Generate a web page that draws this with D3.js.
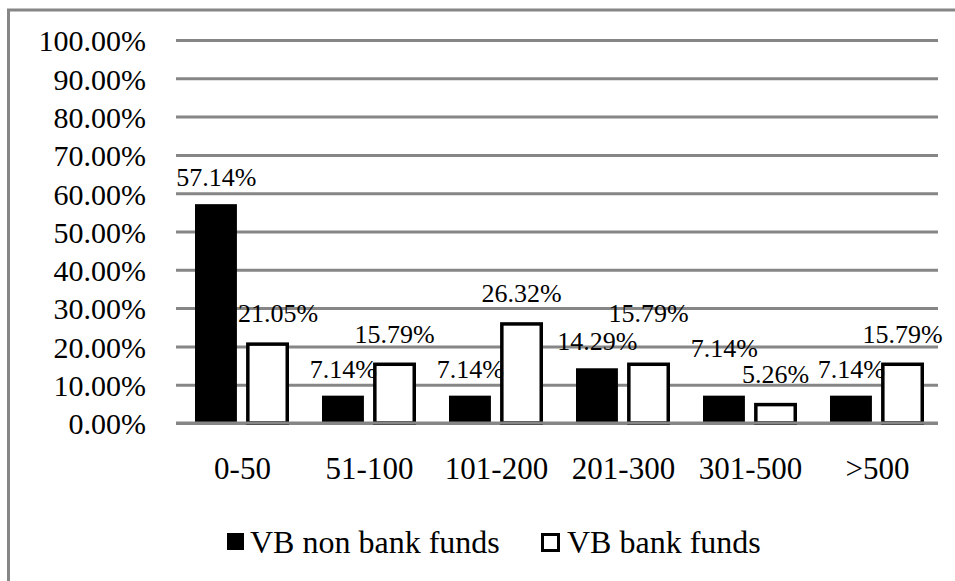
<!DOCTYPE html>
<meta charset="utf-8">
<html>
<head>
<style>
  body { margin: 0; background: #fff; }
  svg text { font-family: "Liberation Serif", "Times New Roman", serif; fill: #000; }
</style>
<script src="https://d3js.org/d3.v7.min.js"></script>
</head>
<body>
<svg width="955" height="581"></svg>
<script>
// data
var categories = ["0-50", "51-100", "101-200", "201-300", "301-500", ">500"];
var seriesNames = ["VB non bank funds", "VB bank funds"];
var nonBank = [0.5714, 0.0714, 0.0714, 0.1429, 0.0714, 0.0714];
var bank = [0.2105, 0.1579, 0.2632, 0.1579, 0.0526, 0.1579];
var yTicks = [0, 0.1, 0.2, 0.3, 0.4, 0.5, 0.6, 0.7, 0.8, 0.9, 1.0];

var svg = d3.select("svg");
var grey = "#868686";
var plotL = 176, plotR = 938, plotT = 40, plotB = 423;

// outer frame (only top and left edges fall inside the picture)
svg.append("path")
  .attr("d", "M8.5,590V10H960")
  .attr("fill", "none")
  .attr("stroke", grey)
  .attr("stroke-width", 3);

var x = d3.scaleBand().domain(categories).range([plotL, plotR]);
var xs = d3.scaleBand().domain([0, 1]).range([19, 113]).paddingInner(0.16);
var y = d3.scaleLinear().domain([0, 1]).range([plotB, plotT]);

// y axis with gridlines
var ya = svg.append("g")
  .attr("transform", "translate(" + plotL + ",0)")
  .call(d3.axisLeft(y).tickValues(yTicks).tickFormat(d3.format(".2%"))
    .tickSize(-(plotR - plotL)).tickPadding(30));
ya.select(".domain").remove();
ya.selectAll(".tick line").attr("stroke", grey).attr("stroke-width", 3);
ya.selectAll(".tick text").attr("font-size", "30px").attr("dy", "0.36em");

var rows = categories.map(function(c, i) { return {cat: c, vals: [nonBank[i], bank[i]]}; });

var sw = 3.5;
var groups = svg.selectAll(".grp").data(rows).enter().append("g")
  .attr("class", "grp")
  .attr("transform", function(d) { return "translate(" + x(d.cat) + ",0)"; });

// non bank (solid black)
groups.append("rect")
  .attr("x", xs(0))
  .attr("width", xs.bandwidth() - 1)
  .attr("y", function(d) { return y(d.vals[0]); })
  .attr("height", function(d) { return plotB - y(d.vals[0]); })
  .attr("fill", "#000");

// bank (white with black outline)
groups.append("rect")
  .attr("x", xs(1) + sw / 2)
  .attr("width", xs.bandwidth() - sw)
  .attr("y", function(d) { return y(d.vals[1]) + sw / 2; })
  .attr("height", function(d) { return plotB - y(d.vals[1]) - sw / 2; })
  .attr("fill", "#fff")
  .attr("stroke", "#000")
  .attr("stroke-width", sw);

// baseline drawn over the bar bottoms
svg.append("line")
  .attr("x1", plotL).attr("x2", plotR)
  .attr("y1", plotB).attr("y2", plotB)
  .attr("stroke", grey).attr("stroke-width", 3);

// value labels, nudged like the spreadsheet does to avoid overlaps
var fmt = d3.format(".2%");
groups.each(function(d) {
  var g = d3.select(this);
  var blackRight = xs(0) + xs.bandwidth() - 1;
  var t0 = g.append("text")
    .attr("font-size", "26px")
    .attr("text-anchor", "middle")
    .attr("x", xs(0) + xs.bandwidth() / 2)
    .attr("y", y(d.vals[0]) - 18)
    .text(fmt(d.vals[0]));
  var t1 = g.append("text")
    .attr("font-size", "26px")
    .attr("text-anchor", "middle")
    .attr("x", xs(1) + xs.bandwidth() / 2)
    .attr("y", y(d.vals[1]) - 20)
    .text(fmt(d.vals[1]));

  var w1 = t1.node().getComputedTextLength();
  var l1 = +t1.attr("x") - w1 / 2;
  // move right if it would sit on top of the black bar
  if (l1 < blackRight && +t1.attr("y") > y(d.vals[0])) {
    t1.attr("x", blackRight + 1 + w1 / 2);
  }
  var b0 = t0.node().getBBox(), b1 = t1.node().getBBox();
  var hOver = b0.x + b0.width > b1.x && b1.x + b1.width > b0.x;
  var dy = Math.abs(+t0.attr("y") - +t1.attr("y"));
  if (hOver && dy < 20) {
    var up = +t0.attr("y") < +t1.attr("y") ? t0 : t1;
    up.attr("y", +up.attr("y") - 21);
  }
});

// category labels
var xa = svg.append("g")
  .attr("transform", "translate(3," + plotB + ")")
  .call(d3.axisBottom(x).tickSize(0).tickPadding(34));
xa.select(".domain").remove();
xa.selectAll(".tick text").attr("font-size", "31px");

// legend
var leg = svg.append("g");
leg.append("rect").attr("x", 227).attr("y", 533).attr("width", 17).attr("height", 17).attr("fill", "#000");
leg.append("text").attr("x", 250).attr("y", 553).attr("font-size", "32px").text(seriesNames[0]);
leg.append("rect").attr("x", 542.5).attr("y", 534.5).attr("width", 16).attr("height", 16)
  .attr("fill", "#fff").attr("stroke", "#000").attr("stroke-width", 3);
leg.append("text").attr("x", 567).attr("y", 553).attr("font-size", "32px").text(seriesNames[1]);
</script>
</body>
</html>
